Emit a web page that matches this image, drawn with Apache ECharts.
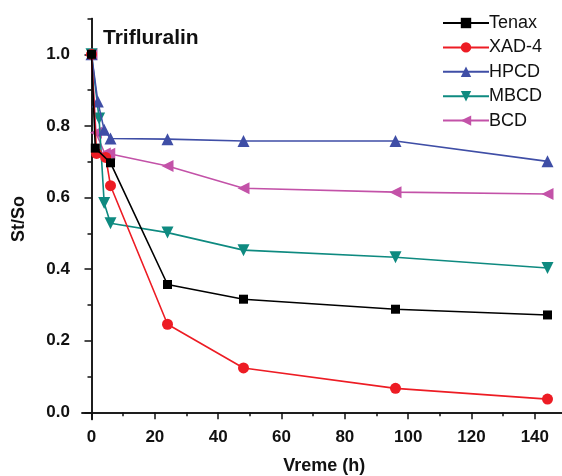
<!DOCTYPE html>
<html>
<head>
<meta charset="utf-8">
<script src="https://cdn.jsdelivr.net/npm/echarts@6/dist/echarts.min.js"></script>
<style>html,body{margin:0;padding:0;background:#fff}#c{width:562px;height:476px}</style>
</head>
<body>
<div id="c"></div>
<script>
const chartTitle = "Trifluralin";
const xName = "Vreme (h)";
const yName = "St/So";
const xTickLabels = [0, 20, 40, 60, 80, 100, 120, 140];
const xMinorTicks = [10, 30, 50, 70, 90, 110, 130, 150];
const yTickLabels = [0, 0.2, 0.4, 0.6, 0.8, 1.0];
const yMinorTicks = [0.1, 0.3, 0.5, 0.7, 0.9, 1.1];

const seriesNames = ["Tenax", "XAD-4", "HPCD", "MBCD", "BCD"];
const tenaxTime = [0, 1.2, 6, 24, 48, 96, 144];
const tenaxVal  = [1.0, 0.738, 0.697, 0.357, 0.316, 0.288, 0.272];
const xadTime = [0, 1.6, 4.5, 6, 24, 48, 96, 144];
const xadVal  = [1.0, 0.723, 0.712, 0.633, 0.246, 0.124, 0.067, 0.037];
const hpcdTime = [0, 2, 4, 6, 24, 48, 96, 144];
const hpcdVal  = [1.0, 0.868, 0.789, 0.765, 0.763, 0.758, 0.758, 0.701];
const mbcdTime = [0, 2.4, 4, 6, 24, 48, 96, 144];
const mbcdVal  = [1.0, 0.821, 0.585, 0.528, 0.502, 0.453, 0.433, 0.403];
const bcdTime = [0, 1.4, 4.2, 5.6, 24, 48, 96, 144];
const bcdVal  = [1.0, 0.781, 0.723, 0.722, 0.688, 0.626, 0.615, 0.610];

const colors = ["#000000", "#ed1c24", "#3f4ea6", "#0e8a80", "#c352a8"];
const symbols = ["rect", "circle", "triangle", "triangle", "triangle"];
const rotates = [0, 0, 0, 180, 90];
const sizes = [9, 11, 12, 12, 12];

const times = [tenaxTime, xadTime, hpcdTime, mbcdTime, bcdTime];
const vals = [tenaxVal, xadVal, hpcdVal, mbcdVal, bcdVal];

const pair = (t, v) => t.map((x, i) => [x, v[i]]);

const font = "'Liberation Sans', Arial, sans-serif";

const chart = echarts.init(document.getElementById('c'), null, {renderer: 'canvas'});

const axisCommonX = {
  type: 'value', min: -3, max: 150, gridIndex: 0, position: 'bottom',
  splitLine: {show: false}
};
const axisCommonY = {
  type: 'value', min: -0.02, max: 1.1, gridIndex: 0, position: 'left',
  splitLine: {show: false}
};

chart.setOption({
  animation: false,
  backgroundColor: '#fff',
  title: {
    text: chartTitle, left: 98, top: 23,
    textStyle: {fontFamily: font, fontWeight: 'bold', fontSize: 21, color: '#111'}
  },
  legend: {
    orient: 'vertical', left: 437, top: 9, align: 'left',
    itemWidth: 46, itemHeight: 13, itemGap: 6.4,
    data: seriesNames,
    textStyle: {fontFamily: font, fontSize: 18, color: '#111', padding: [0,0,0,-5]}
  },
  grid: {left: 82, top: 18.5, width: 484.5, height: 401, outerBoundsMode: 'none', containLabel: false},
  xAxis: [
    Object.assign({}, axisCommonX, {
      name: xName, nameLocation: 'middle', nameGap: 38,
      nameTextStyle: {fontFamily: font, fontWeight: 'bold', fontSize: 18, color: '#111'},
      axisLine: {show: true, onZero: true, lineStyle: {color: '#111', width: 1.5}},
      axisTick: {show: true, inside: false, length: 7, customValues: xTickLabels, lineStyle: {color: '#111', width: 1.5}},
      axisLabel: {show: true, margin: 9, customValues: xTickLabels, fontFamily: font, fontWeight: 'bold', fontSize: 17, color: '#111'}
    }),
    Object.assign({}, axisCommonX, {
      axisLine: {show: true, onZero: true, lineStyle: {color: '#111', width: 1.5}},
      axisTick: {show: true, inside: false, length: 4, customValues: xMinorTicks, lineStyle: {color: '#111', width: 1.5}},
      axisLabel: {show: false}
    })
  ],
  yAxis: [
    Object.assign({}, axisCommonY, {
      name: yName, nameLocation: 'middle', nameGap: 54,
      nameTextStyle: {fontFamily: font, fontWeight: 'bold', fontSize: 18, color: '#111'},
      axisLine: {show: true, onZero: true, lineStyle: {color: '#111', width: 1.5}},
      axisTick: {show: true, inside: false, length: 7, customValues: yTickLabels, lineStyle: {color: '#111', width: 1.5}},
      axisLabel: {show: true, margin: 12, customValues: yTickLabels, formatter: v => v.toFixed(1), fontFamily: font, fontWeight: 'bold', fontSize: 17, color: '#111'}
    }),
    Object.assign({}, axisCommonY, {
      axisLine: {show: true, onZero: true, lineStyle: {color: '#111', width: 1.5}},
      axisTick: {show: true, inside: false, length: 4, customValues: yMinorTicks, lineStyle: {color: '#111', width: 1.5}},
      axisLabel: {show: false}
    })
  ],
  series: seriesNames.map((name, i) => ({
    name: name, type: 'line', xAxisIndex: 0, yAxisIndex: 0,
    data: pair(times[i], vals[i]),
    symbol: symbols[i], symbolRotate: rotates[i], symbolSize: sizes[i],
    showAllSymbol: true,
    lineStyle: {color: colors[i], width: 1.6},
    itemStyle: {color: colors[i], borderWidth: 0},
    z: 10 - i
  }))
});
</script>
</body>
</html>
